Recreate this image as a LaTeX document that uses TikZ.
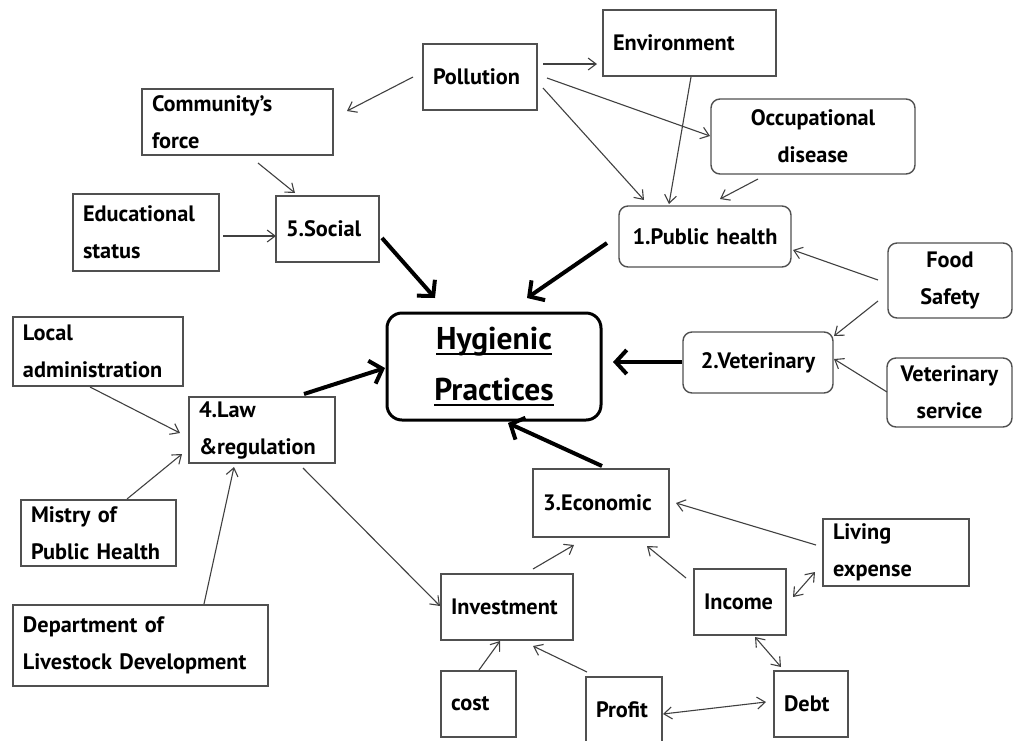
\documentclass[tikz,border=0pt]{standalone}
\usepackage{fontspec}
\setmainfont{PT Sans}
\newcommand\thkul[1]{\leavevmode\setbox0=\hbox{#1}\rlap{\vrule height -4pt depth 6pt width \wd0}\box0}
\usetikzlibrary{arrows.meta}
\definecolor{boxc}{HTML}{505050}
\definecolor{linec}{HTML}{404040}
\tikzset{
  box/.style={draw=boxc, line width=1.4pt, inner xsep=10pt, inner ysep=0pt,
    font=\bfseries\fontsize{22.3}{37}\selectfont, align=left, text=black},
  rbox/.style={box, rounded corners=9pt, align=center},
  thinarr/.style={draw=linec, line width=1.1pt, -{Straight Barb[length=8pt,width=12pt]}},
  dblarr/.style={draw=linec, line width=1.1pt, {Straight Barb[length=8pt,width=12pt]}-{Straight Barb[length=8pt,width=12pt]}},
  thickarr/.style={draw=black, line width=4pt, -{Straight Barb[length=11pt,width=24pt]}},
}
\begin{document}
\begin{tikzpicture}[x=1pt,y=-1pt]
\useasboundingbox (0,0) rectangle (1013,740);
% nodes
\node[box, text width=94pt, minimum height=66pt] (pol) at (480,77) {Pollution};
\node[box, text width=153pt, minimum height=66pt] (env) at (689.5,43) {Environment};
\node[rbox, text width=184pt, minimum height=75pt] (occ) at (813,136.5) {Occupational\\disease};
\node[rbox, text width=152pt, minimum height=61pt] (ph) at (705,236.5) {1.Public health};
\node[rbox, text width=104pt, minimum height=75pt] (food) at (950,280.5) {Food\\Safety};
\node[rbox, text width=130pt, minimum height=61pt] (vet) at (758,362.5) {2.Veterinary};
\node[rbox, text width=105pt, minimum height=69pt] (vs) at (949.5,392.5) {Veterinary\\service};
\node[draw=black, line width=3pt, rounded corners=15pt, inner xsep=10pt, inner ysep=0pt,
  text width=194pt, minimum height=107pt, align=center,
  font=\bfseries\fontsize{31.5}{51}\selectfont] (hyg) at (494,366.5) {\thkul{Hygienic}\\\thkul{Practices}};
\node[box, text width=171pt, minimum height=66pt] (cf) at (237.5,122) {Community’s\\force};
\node[box, text width=126pt, minimum height=77pt] (edu) at (146,232.5) {Educational\\status};
\node[box, text width=83pt, minimum height=66pt] (soc) at (327.5,229) {5.Social};
\node[box, text width=150pt, minimum height=69pt] (la) at (98,351.5) {Local\\administration};
\node[box, text width=126pt, minimum height=66pt] (law) at (262,430) {4.Law\\\&regulation};
\node[box, text width=135pt, minimum height=66pt] (mis) at (98.5,533) {Mistry of\\Public Health};
\node[box, text width=235pt, minimum height=81pt] (dep) at (140.5,645.5) {Department of\\Livestock Development};
\node[box, text width=116pt, minimum height=68pt] (eco) at (601,503) {3.Economic};
\node[box, text width=112pt, minimum height=66pt] (inv) at (507,607) {Investment};
\node[box, text width=55pt, minimum height=66pt] (cost) at (478.5,704) {cost};
\node[box, text width=56pt, minimum height=66pt] (profit) at (624,710) {Profit};
\node[box, text width=126pt, minimum height=67pt] (liv) at (896,552.5) {Living\\expense};
\node[box, text width=72pt, minimum height=66pt] (inc) at (740,602) {Income};
\node[box, text width=54pt, minimum height=66pt] (debt) at (811,704) {Debt};
% thin connectors
\draw[thinarr] ([shift={(-67,0)}]pol.center) -- ([shift={(109.5,-11)}]cf.center);
\draw[thinarr] ([shift={(63,-13)}]pol.center) -- ([shift={(-92.5,21)}]env.center);
\draw[thinarr] ([shift={(67,1)}]pol.center) -- ([shift={(-103,-0.5)}]occ.center);
\draw[thinarr] ([shift={(63,11)}]pol.center) -- ([shift={(-61,-36.5)}]ph.center);
\draw[thinarr] ([shift={(1.5,34)}]env.center) -- ([shift={(-36,-32.5)}]ph.center);
\draw[thinarr] ([shift={(-55,42.5)}]occ.center) -- ([shift={(15,-37.5)}]ph.center);
\draw[thinarr] ([shift={(-72,-0.5)}]food.center) -- ([shift={(88,13.5)}]ph.center);
\draw[thinarr] ([shift={(-72,20.5)}]food.center) -- ([shift={(76,-26.5)}]vet.center);
\draw[thinarr] ([shift={(-62.5,-0.5)}]vs.center) -- ([shift={(76,-3.5)}]vet.center);
\draw[thinarr] ([shift={(20.5,41)}]cf.center) -- ([shift={(-32.5,-36)}]soc.center);
\draw[thinarr] ([shift={(77,3.5)}]edu.center) -- ([shift={(-51.5,7)}]soc.center);
\draw[thinarr] ([shift={(-8,35.5)}]la.center) -- ([shift={(-82,3)}]law.center);
\draw[thinarr] ([shift={(28.5,-34)}]mis.center) -- ([shift={(-80,24)}]law.center);
\draw[thinarr] ([shift={(63.5,-41.5)}]dep.center) -- ([shift={(-28,37)}]law.center);
\draw[thinarr] ([shift={(41,38)}]law.center) -- ([shift={(-67,-1)}]inv.center);
\draw[thinarr] ([shift={(26,-38)}]inv.center) -- ([shift={(-27,42)}]eco.center);
\draw[thinarr] ([shift={(-54,-24)}]inc.center) -- ([shift={(46,43)}]eco.center);
\draw[thinarr] ([shift={(-80,-7.5)}]liv.center) -- ([shift={(75,0)}]eco.center);
\draw[dblarr] ([shift={(-81,19.5)}]liv.center) -- ([shift={(53,-5)}]inc.center);
\draw[dblarr] ([shift={(15,35)}]inc.center) -- ([shift={(-30,-37)}]debt.center);
\draw[dblarr] ([shift={(39,4)}]profit.center) -- ([shift={(-45,-2)}]debt.center);
\draw[thinarr] ([shift={(0.5,-34)}]cost.center) -- ([shift={(-7,34)}]inv.center);
\draw[thinarr] ([shift={(-37,-38)}]profit.center) -- ([shift={(26,39)}]inv.center);
% thick connectors
\draw[thickarr] ([shift={(54.5,9)}]soc.center) -- ([shift={(-59,-68.5)}]hyg.center);
\draw[thickarr] ([shift={(-98,6.5)}]ph.center) -- ([shift={(33,-68.5)}]hyg.center);
\draw[thickarr] ([shift={(-76,-0.5)}]vet.center) -- ([shift={(119,-4.5)}]hyg.center);
\draw[thickarr] ([shift={(1,-37)}]eco.center) -- ([shift={(14,56.5)}]hyg.center);
\draw[thickarr] ([shift={(42,-36)}]law.center) -- ([shift={(-109,1.5)}]hyg.center);
\end{tikzpicture}
\end{document}
